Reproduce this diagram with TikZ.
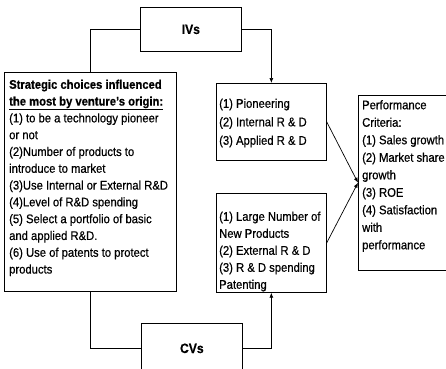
\documentclass[tikz,border=0pt]{standalone}
\usepackage{fontspec}
\setmainfont[FakeStretch=0.9, FakeBold=0.5]{Liberation Sans}
\usetikzlibrary{arrows.meta}
\begin{document}
\begin{tikzpicture}[x=1pt,y=-1pt,
  box/.style={draw, line width=0.7pt, rectangle, inner sep=0pt, anchor=north west},
  openbox/.style={rectangle, inner sep=0pt, anchor=north west},
  txt/.style={anchor=north west, inner sep=0pt, align=left, font=\fontsize{12.5}{17}\selectfont},
  lbl/.style={font=\bfseries\fontsize{13.5}{15}\selectfont},
  conn/.style={line width=0.7pt},
  arr/.style={conn, -{Latex[length=5pt,width=4pt]}}]
\fill[white] (0,0) rectangle (446,368);
\useasboundingbox (0,0) rectangle (446,368);
% boxes
\node[box, lbl, minimum width=101pt, minimum height=44pt] (iv) at (140,7) {IVs};
\node[box, lbl, minimum width=101pt, minimum height=50pt] (cv) at (141,323) {CVs};
\node[box, minimum width=172pt, minimum height=219pt] (L) at (4,72) {};
\node[box, minimum width=110pt, minimum height=77pt] (M1) at (216,83) {};
\node[box, minimum width=110pt, minimum height=99pt] (M2) at (216,193) {};
\node[openbox, minimum width=100pt, minimum height=175pt] (P) at (358,95) {};
\draw[conn] (P.north east) -- (P.north west) -- (P.south west) -- (P.south east);
% texts
\node[txt, font=\fontsize{12.5}{16.8}\selectfont] (Lt) at (9,79.5) {\textbf{Strategic choices influenced}\\
\textbf{\underline{the most by venture's origin:}}\\
(1) to be a technology pioneer\\
or not\\
(2)Number of products to\\
introduce to market\\
(3)Use Internal or External R\&D\\
(4)Level of R\&D spending\\
(5) Select a portfolio of basic\\
and applied R\&D.\\
(6) Use of patents to protect\\
products};
\node[txt, font=\fontsize{12.5}{18.5}\selectfont] (M1t) at (219,98.5) {(1) Pioneering\\(2) Internal R \& D\\(3) Applied R \& D};
\node[txt] (M2t) at (219,211.5) {(1) Large Number of\\New Products\\(2) External R \& D\\(3) R \& D spending\\Patenting};
\node[txt, font=\fontsize{12.5}{17.5}\selectfont] (Pt) at (362,100) {Performance\\Criteria:\\(1) Sales growth\\(2) Market share\\growth\\(3) ROE\\(4) Satisfaction\\with\\performance};
% connectors
\draw[conn] (iv.west) -| (L.north);
\draw[arr] (iv.east) -| (M1.north);
\draw[conn] (cv.west) -| (L.south);
\draw[arr] (cv.east) -| (M2.south);
\draw[arr] (M1.east) -- (P.west);
\draw[arr] (M2.east) -- (P.west);
\end{tikzpicture}
\end{document}
